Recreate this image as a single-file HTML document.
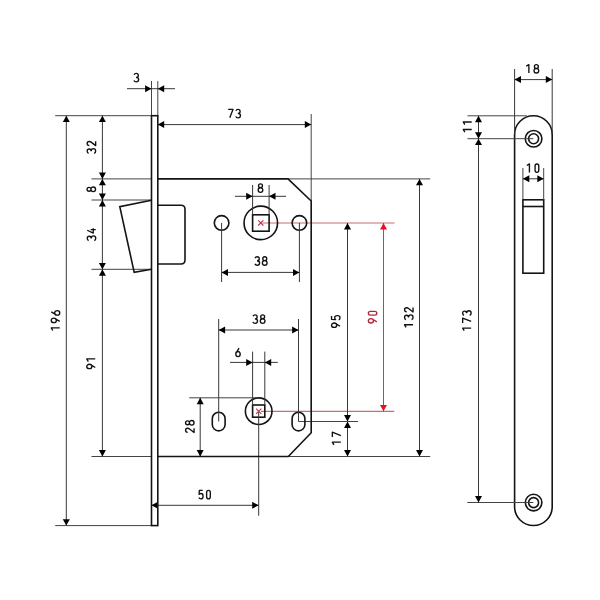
<!DOCTYPE html>
<html><head><meta charset="utf-8"><style>
html,body{margin:0;padding:0;background:#fff;width:600px;height:600px;overflow:hidden}
svg{display:block;will-change:transform}
text{font-family:"Liberation Sans",sans-serif;font-size:14px;text-anchor:middle;stroke:currentColor;stroke-width:0.25px}
</style></head><body>
<svg width="600" height="600" viewBox="0 0 600 600">
<rect width="600" height="600" fill="#fff"/>
<line x1="55.2" y1="115.7" x2="151.5" y2="115.7" stroke="#444444" stroke-width="1.0"/>
<line x1="55.2" y1="525.6" x2="151.5" y2="525.6" stroke="#444444" stroke-width="1.0"/>
<line x1="91.5" y1="178.9" x2="151.5" y2="178.9" stroke="#444444" stroke-width="1.0"/>
<line x1="91.5" y1="200.0" x2="151.5" y2="200.0" stroke="#444444" stroke-width="1.0"/>
<line x1="91.5" y1="269.3" x2="151.5" y2="269.3" stroke="#444444" stroke-width="1.0"/>
<line x1="91.5" y1="456.5" x2="151.5" y2="456.5" stroke="#444444" stroke-width="1.0"/>
<line x1="151.5" y1="81" x2="151.5" y2="115.7" stroke="#444444" stroke-width="1.0"/>
<line x1="157.8" y1="81" x2="157.8" y2="115.7" stroke="#444444" stroke-width="1.0"/>
<line x1="127" y1="88.7" x2="175" y2="88.7" stroke="#383838" stroke-width="1.0"/>
<polygon points="151.50,88.70 145.10,85.20 145.10,92.20" fill="#000"/>
<polygon points="157.80,88.70 164.20,85.20 164.20,92.20" fill="#000"/>
<g transform="translate(136.3 77.6)" fill="none" stroke="#111" stroke-width="1.35" stroke-linejoin="round" stroke-linecap="butt"><path transform="translate(-2.35 -4.25) scale(0.8704 0.8673)" d="M0.1 1.6 C0.6 0.55 1.5 0 2.6 0 C4.0 0 5.0 0.9 5.0 2.35 C5.0 3.75 4.0 4.6 2.4 4.6 M2.4 4.6 C4.2 4.6 5.4 5.55 5.4 7.15 C5.4 8.8 4.2 9.8 2.7 9.8 C1.4 9.8 0.4 9.2 0 8.1" vector-effect="non-scaling-stroke"/></g>
<line x1="66.3" y1="115.7" x2="66.3" y2="525.6" stroke="#383838" stroke-width="1.0"/>
<polygon points="66.30,115.70 62.80,122.10 69.80,122.10" fill="#000"/>
<polygon points="66.30,525.60 62.80,519.20 69.80,519.20" fill="#000"/>
<g transform="translate(55.5 320.6) rotate(-90)" fill="none" stroke="#111" stroke-width="1.35" stroke-linejoin="round" stroke-linecap="butt"><path transform="translate(-9.90 -4.25) scale(1 0.8673)" d="M2.6 9.8 V0 L0 1.8" vector-effect="non-scaling-stroke"/><path transform="translate(-2.00 -4.25) scale(0.8302 0.8673)" d="M1.4 9.8 L4.75 4.35 M0 2.95 A2.65 2.95 0 1 0 5.3 2.95 A2.65 2.95 0 1 0 0 2.95 Z" vector-effect="non-scaling-stroke"/><path transform="translate(5.50 -4.25) scale(0.8302 0.8673)" d="M3.9 0 L0.55 5.45 M0 6.85 A2.65 2.95 0 1 0 5.3 6.85 A2.65 2.95 0 1 0 0 6.85 Z" vector-effect="non-scaling-stroke"/></g>
<line x1="102.4" y1="115.7" x2="102.4" y2="178.9" stroke="#383838" stroke-width="1.0"/>
<polygon points="102.40,115.70 98.90,122.10 105.90,122.10" fill="#000"/>
<polygon points="102.40,178.90 98.90,172.50 105.90,172.50" fill="#000"/>
<g transform="translate(91.4 147.35) rotate(-90)" fill="none" stroke="#111" stroke-width="1.35" stroke-linejoin="round" stroke-linecap="butt"><path transform="translate(-6.03 -4.25) scale(0.8704 0.8673)" d="M0.1 1.6 C0.6 0.55 1.5 0 2.6 0 C4.0 0 5.0 0.9 5.0 2.35 C5.0 3.75 4.0 4.6 2.4 4.6 M2.4 4.6 C4.2 4.6 5.4 5.55 5.4 7.15 C5.4 8.8 4.2 9.8 2.7 9.8 C1.4 9.8 0.4 9.2 0 8.1" vector-effect="non-scaling-stroke"/><path transform="translate(1.62 -4.25) scale(0.8302 0.8673)" d="M0.15 2.5 C0.3 0.9 1.3 0 2.65 0 C4.1 0 5.1 0.95 5.1 2.45 C5.1 3.4 4.7 4.1 4.0 5.0 L0.1 9.8 H5.3" vector-effect="non-scaling-stroke"/></g>
<line x1="102.4" y1="178.9" x2="102.4" y2="200.0" stroke="#383838" stroke-width="1.0"/>
<polygon points="102.40,178.90 98.90,185.30 105.90,185.30" fill="#000"/>
<polygon points="102.40,200.00 98.90,193.60 105.90,193.60" fill="#000"/>
<g transform="translate(91.3 189.3) rotate(-90)" fill="none" stroke="#111" stroke-width="1.35" stroke-linejoin="round" stroke-linecap="butt"><path transform="translate(-2.35 -4.25) scale(0.8545 0.8673)" d="M2.75 4.55 C1.4 4.55 0.45 3.7 0.45 2.3 C0.45 0.9 1.4 0 2.75 0 C4.1 0 5.05 0.9 5.05 2.3 C5.05 3.7 4.1 4.55 2.75 4.55 C1.1 4.55 0 5.5 0 7.15 C0 8.8 1.1 9.8 2.75 9.8 C4.4 9.8 5.5 8.8 5.5 7.15 C5.5 5.5 4.4 4.55 2.75 4.55 Z" vector-effect="non-scaling-stroke"/></g>
<line x1="102.4" y1="200.0" x2="102.4" y2="269.3" stroke="#383838" stroke-width="1.0"/>
<polygon points="102.40,200.00 98.90,206.40 105.90,206.40" fill="#000"/>
<polygon points="102.40,269.30 98.90,262.90 105.90,262.90" fill="#000"/>
<g transform="translate(91.5 234.5) rotate(-90)" fill="none" stroke="#111" stroke-width="1.35" stroke-linejoin="round" stroke-linecap="butt"><path transform="translate(-6.12 -4.25) scale(0.8704 0.8673)" d="M0.1 1.6 C0.6 0.55 1.5 0 2.6 0 C4.0 0 5.0 0.9 5.0 2.35 C5.0 3.75 4.0 4.6 2.4 4.6 M2.4 4.6 C4.2 4.6 5.4 5.55 5.4 7.15 C5.4 8.8 4.2 9.8 2.7 9.8 C1.4 9.8 0.4 9.2 0 8.1" vector-effect="non-scaling-stroke"/><path transform="translate(1.33 -4.25) scale(0.8571 0.8673)" d="M3.4 0 L0.1 6.9 H5.6 M4.1 3.9 V9.8" vector-effect="non-scaling-stroke"/></g>
<line x1="102.4" y1="269.3" x2="102.4" y2="456.5" stroke="#383838" stroke-width="1.0"/>
<polygon points="102.40,269.30 98.90,275.70 105.90,275.70" fill="#000"/>
<polygon points="102.40,456.50 98.90,450.10 105.90,450.10" fill="#000"/>
<g transform="translate(91.0 363.8) rotate(-90)" fill="none" stroke="#111" stroke-width="1.35" stroke-linejoin="round" stroke-linecap="butt"><path transform="translate(-4.85 -4.25) scale(0.8302 0.8673)" d="M1.4 9.8 L4.75 4.35 M0 2.95 A2.65 2.95 0 1 0 5.3 2.95 A2.65 2.95 0 1 0 0 2.95 Z" vector-effect="non-scaling-stroke"/><path transform="translate(2.25 -4.25) scale(1 0.8673)" d="M2.6 9.8 V0 L0 1.8" vector-effect="non-scaling-stroke"/></g>
<line x1="311.2" y1="114" x2="311.2" y2="201" stroke="#444444" stroke-width="1.0"/>
<line x1="157.8" y1="124.6" x2="311.2" y2="124.6" stroke="#383838" stroke-width="1.0"/>
<polygon points="157.80,124.60 164.20,121.10 164.20,128.10" fill="#000"/>
<polygon points="311.20,124.60 304.80,121.10 304.80,128.10" fill="#000"/>
<g transform="translate(234.3 113.6)" fill="none" stroke="#111" stroke-width="1.35" stroke-linejoin="round" stroke-linecap="butt"><path transform="translate(-6.15 -4.25) scale(0.8909 0.8673)" d="M0 0 H5.5 L1.8 9.8" vector-effect="non-scaling-stroke"/><path transform="translate(1.45 -4.25) scale(0.8704 0.8673)" d="M0.1 1.6 C0.6 0.55 1.5 0 2.6 0 C4.0 0 5.0 0.9 5.0 2.35 C5.0 3.75 4.0 4.6 2.4 4.6 M2.4 4.6 C4.2 4.6 5.4 5.55 5.4 7.15 C5.4 8.8 4.2 9.8 2.7 9.8 C1.4 9.8 0.4 9.2 0 8.1" vector-effect="non-scaling-stroke"/></g>
<line x1="288.0" y1="178.9" x2="430.2" y2="178.9" stroke="#444444" stroke-width="1.0"/>
<line x1="288.3" y1="456.5" x2="430.2" y2="456.5" stroke="#444444" stroke-width="1.0"/>
<line x1="419.5" y1="178.9" x2="419.5" y2="456.5" stroke="#383838" stroke-width="1.0"/>
<polygon points="419.50,178.90 416.00,185.30 423.00,185.30" fill="#000"/>
<polygon points="419.50,456.50 416.00,450.10 423.00,450.10" fill="#000"/>
<g transform="translate(408.8 317.5) rotate(-90)" fill="none" stroke="#111" stroke-width="1.35" stroke-linejoin="round" stroke-linecap="butt"><path transform="translate(-9.90 -4.25) scale(1 0.8673)" d="M2.6 9.8 V0 L0 1.8" vector-effect="non-scaling-stroke"/><path transform="translate(-2.15 -4.25) scale(0.8704 0.8673)" d="M0.1 1.6 C0.6 0.55 1.5 0 2.6 0 C4.0 0 5.0 0.9 5.0 2.35 C5.0 3.75 4.0 4.6 2.4 4.6 M2.4 4.6 C4.2 4.6 5.4 5.55 5.4 7.15 C5.4 8.8 4.2 9.8 2.7 9.8 C1.4 9.8 0.4 9.2 0 8.1" vector-effect="non-scaling-stroke"/><path transform="translate(5.50 -4.25) scale(0.8302 0.8673)" d="M0.15 2.5 C0.3 0.9 1.3 0 2.65 0 C4.1 0 5.1 0.95 5.1 2.45 C5.1 3.4 4.7 4.1 4.0 5.0 L0.1 9.8 H5.3" vector-effect="non-scaling-stroke"/></g>
<line x1="262.5" y1="223.0" x2="394.5" y2="223.0" stroke="#c86e6e" stroke-width="1.2"/>
<line x1="261.0" y1="411.3" x2="394.3" y2="411.3" stroke="#c86e6e" stroke-width="1.2"/>
<line x1="383.5" y1="223.0" x2="383.5" y2="411.3" stroke="#a85050" stroke-width="1"/>
<polygon points="383.50,223.00 380.00,229.40 387.00,229.40" fill="#e8101a"/>
<polygon points="383.50,411.30 380.00,404.90 387.00,404.90" fill="#e8101a"/>
<g transform="translate(372.6 317.2) rotate(-90)" fill="none" stroke="#b02838" stroke-width="1.35" stroke-linejoin="round" stroke-linecap="butt"><path transform="translate(-5.78 -4.25) scale(0.8302 0.8673)" d="M1.4 9.8 L4.75 4.35 M0 2.95 A2.65 2.95 0 1 0 5.3 2.95 A2.65 2.95 0 1 0 0 2.95 Z" vector-effect="non-scaling-stroke"/><path transform="translate(2.07 -4.25) scale(0.7551 0.8673)" d="M0 2.45 A2.45 2.45 0 0 1 4.9 2.45 V7.35 A2.45 2.45 0 0 1 0 7.35 Z" vector-effect="non-scaling-stroke"/></g>
<line x1="347.5" y1="223.0" x2="347.5" y2="421.5" stroke="#383838" stroke-width="1.0"/>
<polygon points="347.50,223.00 344.00,229.40 351.00,229.40" fill="#000"/>
<polygon points="347.50,421.50 344.00,415.10 351.00,415.10" fill="#000"/>
<g transform="translate(335.8 321.5) rotate(-90)" fill="none" stroke="#111" stroke-width="1.35" stroke-linejoin="round" stroke-linecap="butt"><path transform="translate(-5.90 -4.25) scale(0.8302 0.8673)" d="M1.4 9.8 L4.75 4.35 M0 2.95 A2.65 2.95 0 1 0 5.3 2.95 A2.65 2.95 0 1 0 0 2.95 Z" vector-effect="non-scaling-stroke"/><path transform="translate(1.70 -4.25) scale(0.8077 0.8673)" d="M4.8 0 H0.6 L0.25 4.6 C0.85 3.95 1.7 3.6 2.6 3.6 C4.2 3.6 5.2 4.75 5.2 6.7 C5.2 8.6 4.1 9.8 2.6 9.8 C1.3 9.8 0.4 9.2 0 8.2" vector-effect="non-scaling-stroke"/></g>
<line x1="347.5" y1="421.5" x2="347.5" y2="456.5" stroke="#383838" stroke-width="1.0"/>
<polygon points="347.50,421.50 344.00,427.90 351.00,427.90" fill="#000"/>
<polygon points="347.50,456.50 344.00,450.10 351.00,450.10" fill="#000"/>
<g transform="translate(336.6 438.5) rotate(-90)" fill="none" stroke="#111" stroke-width="1.35" stroke-linejoin="round" stroke-linecap="butt"><path transform="translate(-6.28 -4.25) scale(1 0.8673)" d="M2.6 9.8 V0 L0 1.8" vector-effect="non-scaling-stroke"/><path transform="translate(1.38 -4.25) scale(0.8909 0.8673)" d="M0 0 H5.5 L1.8 9.8" vector-effect="non-scaling-stroke"/></g>
<line x1="298.5" y1="421.5" x2="358" y2="421.5" stroke="#444444" stroke-width="1.0"/>
<circle cx="221.6" cy="222.9" r="7.3" fill="none" stroke="#141414" stroke-width="1.6"/>
<line x1="221.6" y1="222.9" x2="221.6" y2="282" stroke="#383838" stroke-width="1.0"/>
<circle cx="299.4" cy="222.9" r="7.3" fill="none" stroke="#141414" stroke-width="1.6"/>
<line x1="299.4" y1="222.9" x2="299.4" y2="282" stroke="#383838" stroke-width="1.0"/>
<line x1="221.6" y1="272.4" x2="299.4" y2="272.4" stroke="#383838" stroke-width="1.0"/>
<polygon points="221.60,272.40 228.00,268.90 228.00,275.90" fill="#000"/>
<polygon points="299.40,272.40 293.00,268.90 293.00,275.90" fill="#000"/>
<g transform="translate(261 261)" fill="none" stroke="#111" stroke-width="1.35" stroke-linejoin="round" stroke-linecap="butt"><path transform="translate(-6.10 -4.25) scale(0.8704 0.8673)" d="M0.1 1.6 C0.6 0.55 1.5 0 2.6 0 C4.0 0 5.0 0.9 5.0 2.35 C5.0 3.75 4.0 4.6 2.4 4.6 M2.4 4.6 C4.2 4.6 5.4 5.55 5.4 7.15 C5.4 8.8 4.2 9.8 2.7 9.8 C1.4 9.8 0.4 9.2 0 8.1" vector-effect="non-scaling-stroke"/><path transform="translate(1.40 -4.25) scale(0.8545 0.8673)" d="M2.75 4.55 C1.4 4.55 0.45 3.7 0.45 2.3 C0.45 0.9 1.4 0 2.75 0 C4.1 0 5.05 0.9 5.05 2.3 C5.05 3.7 4.1 4.55 2.75 4.55 C1.1 4.55 0 5.5 0 7.15 C0 8.8 1.1 9.8 2.75 9.8 C4.4 9.8 5.5 8.8 5.5 7.15 C5.5 5.5 4.4 4.55 2.75 4.55 Z" vector-effect="non-scaling-stroke"/></g>
<circle cx="260.8" cy="222.9" r="16.75" fill="none" stroke="#141414" stroke-width="1.6"/>
<rect x="252.6" y="214.8" width="16.5" height="16.4" fill="none" stroke="#141414" stroke-width="1.6"/>
<line x1="252.6" y1="185" x2="252.6" y2="214.8" stroke="#383838" stroke-width="1.0"/>
<line x1="269.1" y1="185" x2="269.1" y2="214.8" stroke="#383838" stroke-width="1.0"/>
<line x1="235" y1="196.3" x2="286" y2="196.3" stroke="#383838" stroke-width="1.0"/>
<polygon points="252.60,196.30 246.20,192.80 246.20,199.80" fill="#000"/>
<polygon points="269.10,196.30 275.50,192.80 275.50,199.80" fill="#000"/>
<g transform="translate(260.5 188.1)" fill="none" stroke="#111" stroke-width="1.35" stroke-linejoin="round" stroke-linecap="butt"><path transform="translate(-2.35 -4.25) scale(0.8545 0.8673)" d="M2.75 4.55 C1.4 4.55 0.45 3.7 0.45 2.3 C0.45 0.9 1.4 0 2.75 0 C4.1 0 5.05 0.9 5.05 2.3 C5.05 3.7 4.1 4.55 2.75 4.55 C1.1 4.55 0 5.5 0 7.15 C0 8.8 1.1 9.8 2.75 9.8 C4.4 9.8 5.5 8.8 5.5 7.15 C5.5 5.5 4.4 4.55 2.75 4.55 Z" vector-effect="non-scaling-stroke"/></g>
<circle cx="258.7" cy="411.2" r="13.3" fill="none" stroke="#141414" stroke-width="1.6"/>
<rect x="252.6" y="405" width="12.2" height="12.2" fill="none" stroke="#141414" stroke-width="1.6"/>
<line x1="252.6" y1="351.6" x2="252.6" y2="405" stroke="#383838" stroke-width="1.0"/>
<line x1="264.8" y1="351.6" x2="264.8" y2="405" stroke="#383838" stroke-width="1.0"/>
<line x1="230" y1="362.4" x2="277.8" y2="362.4" stroke="#383838" stroke-width="1.0"/>
<polygon points="252.60,362.40 246.20,358.90 246.20,365.90" fill="#000"/>
<polygon points="264.80,362.40 271.20,358.90 271.20,365.90" fill="#000"/>
<g transform="translate(238 352.4)" fill="none" stroke="#111" stroke-width="1.35" stroke-linejoin="round" stroke-linecap="butt"><path transform="translate(-2.20 -4.25) scale(0.8302 0.8673)" d="M3.9 0 L0.55 5.45 M0 6.85 A2.65 2.95 0 1 0 5.3 6.85 A2.65 2.95 0 1 0 0 6.85 Z" vector-effect="non-scaling-stroke"/></g>
<rect x="212.29999999999998" y="412.3" width="12.8" height="18.6" rx="6.4" ry="6.4" fill="none" stroke="#141414" stroke-width="1.6"/>
<line x1="218.7" y1="319" x2="218.7" y2="421.5" stroke="#383838" stroke-width="1.0"/>
<rect x="292.1" y="412.3" width="12.8" height="18.6" rx="6.4" ry="6.4" fill="none" stroke="#141414" stroke-width="1.6"/>
<line x1="298.5" y1="319" x2="298.5" y2="421.5" stroke="#383838" stroke-width="1.0"/>
<line x1="218.7" y1="330" x2="298.5" y2="330" stroke="#383838" stroke-width="1.0"/>
<polygon points="218.70,330.00 225.10,326.50 225.10,333.50" fill="#000"/>
<polygon points="298.50,330.00 292.10,326.50 292.10,333.50" fill="#000"/>
<g transform="translate(258.9 319.1)" fill="none" stroke="#111" stroke-width="1.35" stroke-linejoin="round" stroke-linecap="butt"><path transform="translate(-6.10 -4.25) scale(0.8704 0.8673)" d="M0.1 1.6 C0.6 0.55 1.5 0 2.6 0 C4.0 0 5.0 0.9 5.0 2.35 C5.0 3.75 4.0 4.6 2.4 4.6 M2.4 4.6 C4.2 4.6 5.4 5.55 5.4 7.15 C5.4 8.8 4.2 9.8 2.7 9.8 C1.4 9.8 0.4 9.2 0 8.1" vector-effect="non-scaling-stroke"/><path transform="translate(1.40 -4.25) scale(0.8545 0.8673)" d="M2.75 4.55 C1.4 4.55 0.45 3.7 0.45 2.3 C0.45 0.9 1.4 0 2.75 0 C4.1 0 5.05 0.9 5.05 2.3 C5.05 3.7 4.1 4.55 2.75 4.55 C1.1 4.55 0 5.5 0 7.15 C0 8.8 1.1 9.8 2.75 9.8 C4.4 9.8 5.5 8.8 5.5 7.15 C5.5 5.5 4.4 4.55 2.75 4.55 Z" vector-effect="non-scaling-stroke"/></g>
<line x1="189.2" y1="397.8" x2="258.7" y2="397.8" stroke="#444444" stroke-width="1.0"/>
<line x1="200.2" y1="397.8" x2="200.2" y2="456.5" stroke="#383838" stroke-width="1.0"/>
<polygon points="200.20,397.80 196.70,404.20 203.70,404.20" fill="#000"/>
<polygon points="200.20,456.50 196.70,450.10 203.70,450.10" fill="#000"/>
<g transform="translate(189.8 426.5) rotate(-90)" fill="none" stroke="#111" stroke-width="1.35" stroke-linejoin="round" stroke-linecap="butt"><path transform="translate(-6.03 -4.25) scale(0.8302 0.8673)" d="M0.15 2.5 C0.3 0.9 1.3 0 2.65 0 C4.1 0 5.1 0.95 5.1 2.45 C5.1 3.4 4.7 4.1 4.0 5.0 L0.1 9.8 H5.3" vector-effect="non-scaling-stroke"/><path transform="translate(1.32 -4.25) scale(0.8545 0.8673)" d="M2.75 4.55 C1.4 4.55 0.45 3.7 0.45 2.3 C0.45 0.9 1.4 0 2.75 0 C4.1 0 5.05 0.9 5.05 2.3 C5.05 3.7 4.1 4.55 2.75 4.55 C1.1 4.55 0 5.5 0 7.15 C0 8.8 1.1 9.8 2.75 9.8 C4.4 9.8 5.5 8.8 5.5 7.15 C5.5 5.5 4.4 4.55 2.75 4.55 Z" vector-effect="non-scaling-stroke"/></g>
<line x1="258.7" y1="411.2" x2="258.7" y2="515.7" stroke="#383838" stroke-width="1.0"/>
<line x1="151.5" y1="505.3" x2="258.6" y2="505.3" stroke="#383838" stroke-width="1.0"/>
<polygon points="151.50,505.30 157.90,501.80 157.90,508.80" fill="#000"/>
<polygon points="258.60,505.30 252.20,501.80 252.20,508.80" fill="#000"/>
<g transform="translate(204.6 494.6)" fill="none" stroke="#111" stroke-width="1.35" stroke-linejoin="round" stroke-linecap="butt"><path transform="translate(-5.73 -4.25) scale(0.8077 0.8673)" d="M4.8 0 H0.6 L0.25 4.6 C0.85 3.95 1.7 3.6 2.6 3.6 C4.2 3.6 5.2 4.75 5.2 6.7 C5.2 8.6 4.1 9.8 2.6 9.8 C1.3 9.8 0.4 9.2 0 8.2" vector-effect="non-scaling-stroke"/><path transform="translate(2.02 -4.25) scale(0.7551 0.8673)" d="M0 2.45 A2.45 2.45 0 0 1 4.9 2.45 V7.35 A2.45 2.45 0 0 1 0 7.35 Z" vector-effect="non-scaling-stroke"/></g>
<path d="M157.8 178.9 H288.0 L311.2 201.0 V432.8 L288.3 456.5 H157.8" fill="none" stroke="#141414" stroke-width="1.6" stroke-linejoin="miter"/>
<rect x="151.5" y="115.7" width="6.300000000000011" height="409.90000000000003" fill="none" stroke="#141414" stroke-width="1.6"/>
<path d="M157.8 205.2 H181 Q185 205.2 185 209.2 V260 Q185 264 181 264 H157.8" fill="none" stroke="#141414" stroke-width="1.6"/>
<path d="M151.5 200.2 L119.8 206.6 L134.2 272.4 L151.5 269.2" fill="none" stroke="#141414" stroke-width="1.6" stroke-linejoin="miter"/>
<path d="M258.2 220.3 L263.40000000000003 225.5 M258.2 225.5 L263.40000000000003 220.3" stroke="#c83048" stroke-width="1.1"/>
<path d="M256.09999999999997 408.59999999999997 L261.3 413.8 M256.09999999999997 413.8 L261.3 408.59999999999997" stroke="#c83048" stroke-width="1.1"/>
<path d="M514.6 134.60000000000002 A18.80000000000001 18.80000000000001 0 0 1 552.2 134.60000000000002 V506.7 A18.80000000000001 18.80000000000001 0 0 1 514.6 506.7 Z" fill="none" stroke="#141414" stroke-width="1.6"/>
<circle cx="533.6" cy="138.75" r="8.3" fill="none" stroke="#141414" stroke-width="1.6"/>
<circle cx="533.6" cy="138.75" r="5.0" fill="none" stroke="#141414" stroke-width="1.6"/>
<circle cx="533.6" cy="502.6" r="8.3" fill="none" stroke="#141414" stroke-width="1.6"/>
<circle cx="533.6" cy="502.6" r="5.0" fill="none" stroke="#141414" stroke-width="1.6"/>
<rect x="522.9" y="199.8" width="20.8" height="73.4" fill="none" stroke="#141414" stroke-width="1.6"/>
<line x1="522.9" y1="206.5" x2="543.7" y2="206.5" stroke="#141414" stroke-width="1.6"/>
<line x1="514.6" y1="69" x2="514.6" y2="134.60000000000002" stroke="#383838" stroke-width="1.0"/>
<line x1="552.2" y1="69" x2="552.2" y2="134.60000000000002" stroke="#383838" stroke-width="1.0"/>
<line x1="514.6" y1="79.6" x2="552.2" y2="79.6" stroke="#383838" stroke-width="1.0"/>
<polygon points="514.60,79.60 521.00,76.10 521.00,83.10" fill="#000"/>
<polygon points="552.20,79.60 545.80,76.10 545.80,83.10" fill="#000"/>
<g transform="translate(532.5 68.8)" fill="none" stroke="#111" stroke-width="1.35" stroke-linejoin="round" stroke-linecap="butt"><path transform="translate(-6.23 -4.25) scale(1 0.8673)" d="M2.6 9.8 V0 L0 1.8" vector-effect="non-scaling-stroke"/><path transform="translate(1.52 -4.25) scale(0.8545 0.8673)" d="M2.75 4.55 C1.4 4.55 0.45 3.7 0.45 2.3 C0.45 0.9 1.4 0 2.75 0 C4.1 0 5.05 0.9 5.05 2.3 C5.05 3.7 4.1 4.55 2.75 4.55 C1.1 4.55 0 5.5 0 7.15 C0 8.8 1.1 9.8 2.75 9.8 C4.4 9.8 5.5 8.8 5.5 7.15 C5.5 5.5 4.4 4.55 2.75 4.55 Z" vector-effect="non-scaling-stroke"/></g>
<line x1="522.9" y1="168" x2="522.9" y2="199.8" stroke="#444444" stroke-width="1.0"/>
<line x1="543.7" y1="168" x2="543.7" y2="199.8" stroke="#444444" stroke-width="1.0"/>
<line x1="522.9" y1="178.8" x2="543.7" y2="178.8" stroke="#383838" stroke-width="1.0"/>
<polygon points="522.90,178.80 529.30,175.30 529.30,182.30" fill="#000"/>
<polygon points="543.70,178.80 537.30,175.30 537.30,182.30" fill="#000"/>
<g transform="translate(532.8 168.2)" fill="none" stroke="#111" stroke-width="1.35" stroke-linejoin="round" stroke-linecap="butt"><path transform="translate(-5.98 -4.25) scale(1 0.8673)" d="M2.6 9.8 V0 L0 1.8" vector-effect="non-scaling-stroke"/><path transform="translate(2.27 -4.25) scale(0.7551 0.8673)" d="M0 2.45 A2.45 2.45 0 0 1 4.9 2.45 V7.35 A2.45 2.45 0 0 1 0 7.35 Z" vector-effect="non-scaling-stroke"/></g>
<line x1="467.5" y1="115.8" x2="527" y2="115.8" stroke="#444444" stroke-width="1.0"/>
<line x1="467.5" y1="138.7" x2="533.4000000000001" y2="138.7" stroke="#444444" stroke-width="1.0"/>
<line x1="467.3" y1="502.5" x2="533.4000000000001" y2="502.5" stroke="#444444" stroke-width="1.0"/>
<line x1="478.5" y1="115.8" x2="478.5" y2="138.7" stroke="#383838" stroke-width="1.0"/>
<polygon points="478.50,115.80 475.00,122.20 482.00,122.20" fill="#000"/>
<polygon points="478.50,138.70 475.00,132.30 482.00,132.30" fill="#000"/>
<g transform="translate(467.5 127) rotate(-90)" fill="none" stroke="#111" stroke-width="1.35" stroke-linejoin="round" stroke-linecap="butt"><path transform="translate(-5.05 -4.25) scale(1 0.8673)" d="M2.6 9.8 V0 L0 1.8" vector-effect="non-scaling-stroke"/><path transform="translate(2.45 -4.25) scale(1 0.8673)" d="M2.6 9.8 V0 L0 1.8" vector-effect="non-scaling-stroke"/></g>
<line x1="478.5" y1="138.7" x2="478.5" y2="502.5" stroke="#383838" stroke-width="1.0"/>
<polygon points="478.50,138.70 475.00,145.10 482.00,145.10" fill="#000"/>
<polygon points="478.50,502.50 475.00,496.10 482.00,496.10" fill="#000"/>
<g transform="translate(466.9 320.7) rotate(-90)" fill="none" stroke="#111" stroke-width="1.35" stroke-linejoin="round" stroke-linecap="butt"><path transform="translate(-9.98 -4.25) scale(1 0.8673)" d="M2.6 9.8 V0 L0 1.8" vector-effect="non-scaling-stroke"/><path transform="translate(-2.33 -4.25) scale(0.8909 0.8673)" d="M0 0 H5.5 L1.8 9.8" vector-effect="non-scaling-stroke"/><path transform="translate(5.27 -4.25) scale(0.8704 0.8673)" d="M0.1 1.6 C0.6 0.55 1.5 0 2.6 0 C4.0 0 5.0 0.9 5.0 2.35 C5.0 3.75 4.0 4.6 2.4 4.6 M2.4 4.6 C4.2 4.6 5.4 5.55 5.4 7.15 C5.4 8.8 4.2 9.8 2.7 9.8 C1.4 9.8 0.4 9.2 0 8.1" vector-effect="non-scaling-stroke"/></g>
</svg>
</body></html>
